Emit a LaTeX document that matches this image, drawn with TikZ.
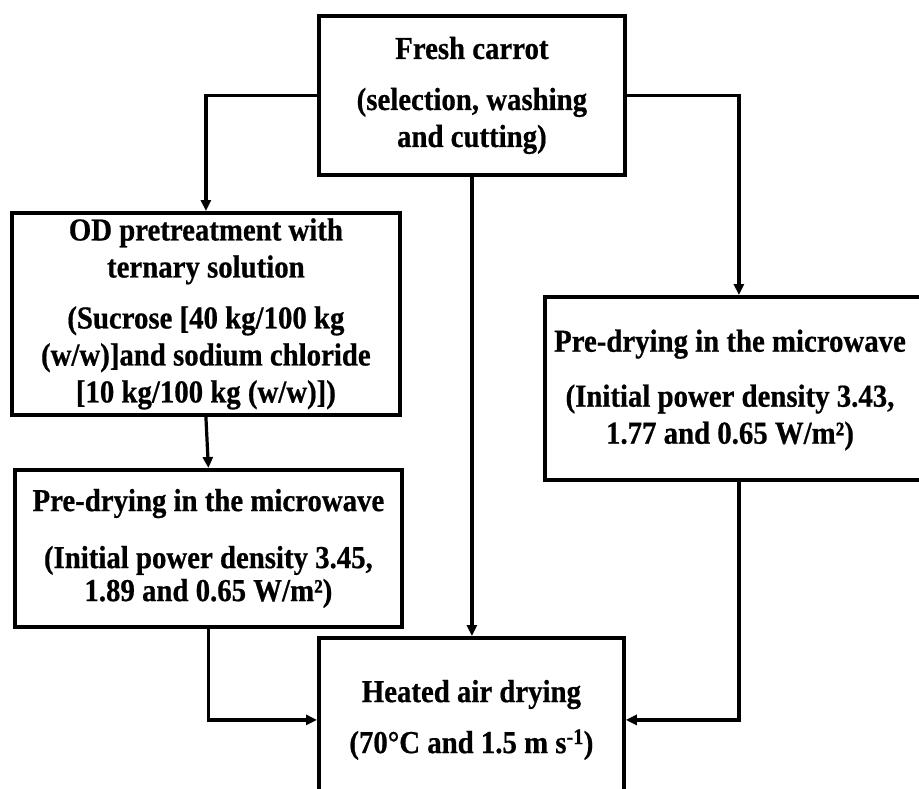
\documentclass[tikz,border=0pt]{standalone}
\usepackage{fontspec}
\setmainfont[FakeStretch=0.9,FakeBold=0.6]{Liberation Serif}
\usetikzlibrary{arrows.meta}
\begin{document}
\begin{tikzpicture}[x=1pt,y=-1pt,
  box/.style={draw,line width=3.8pt,rectangle,inner sep=0pt,anchor=north west},
  txt/.style={align=center,font=\fontsize{32}{37}\selectfont\bfseries,inner sep=0pt},
  conn/.style={line width=3.2pt,-{Triangle[length=11pt,width=10pt]}}]
\useasboundingbox (0,0) rectangle (919,788);
\fill[white] (0,0) rectangle (919,788);

\node[box,txt,minimum width=306pt,minimum height=159pt] (top) at (317,14)
  {Fresh carrot\\[14pt](selection, washing\\and cutting)};
\node[box,txt,minimum width=388pt,minimum height=202pt] (od) at (10,211)
  {OD pretreatment with\\ternary solution\\[14pt](Sucrose {[}40 kg/100 kg\\(w/w){]}and sodium chloride\\{[}10 kg/100 kg (w/w){]})};
\node[box,txt,minimum width=387pt,minimum height=157pt] (predL) at (13,468)
  {Pre-drying in the microwave\\[20pt](Initial power density 3.45,\\[-4pt]1.89 and 0.65 W/m²)};
\node[box,minimum width=388pt,minimum height=183pt] (predR) at (543,295) {};
\node[txt] (predRt) at (730,390)
  {Pre-drying in the microwave\\[18pt](Initial power density 3.43,\\1.77 and 0.65 W/m²)};
\node[box,txt,minimum width=305pt,minimum height=164pt] (heat) at (317,636)
  {Heated air drying\\[14pt](70°C and 1.5 m s\textsuperscript{-1})};

\draw[conn] (top.west) -| (od.north);
\draw[conn] (top.east) -| (predR.north);
\draw[conn] (top.south) -- (top.south |- heat.north);
\draw[conn] (od.south) -- (predL.north);
\draw[conn] (predL.south) |- (heat.west);
\draw[conn] (predR.south) |- (heat.east);
\end{tikzpicture}
\end{document}
